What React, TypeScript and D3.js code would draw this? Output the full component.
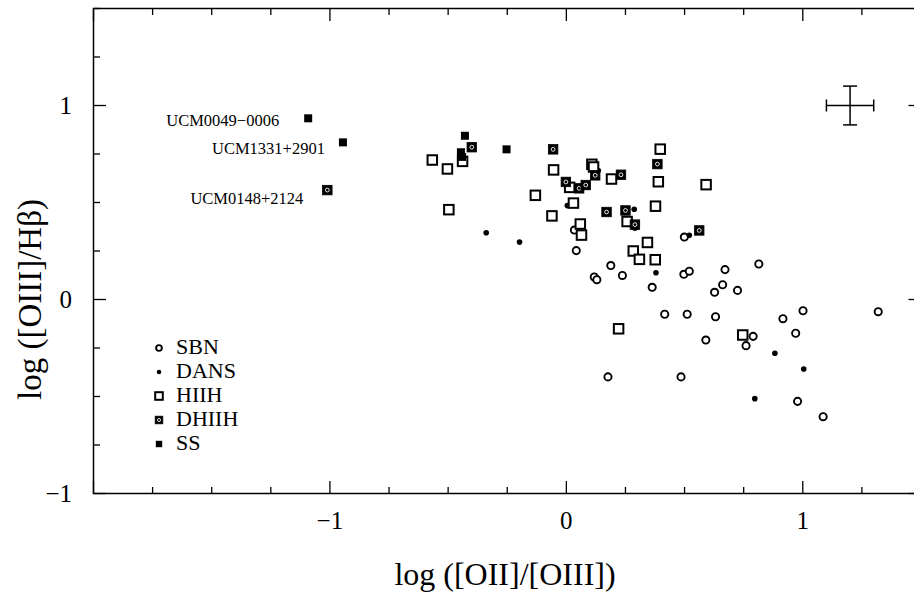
import React from "react";
import * as d3 from "d3";

const W = 914;
const H = 592;

const xDomain: [number, number] = [-2, 1.5];
const yDomain: [number, number] = [-1, 1.5];
const xMajorTicks = [-1, 0, 1];
const yMajorTicks = [-1, 0, 1];
const minorStep = 0.25;

const xTitle = "log ([OII]/[OIII])";
const yTitle = "log ([OIII]/Hβ)";

const legendLabels = ["SBN", "DANS", "HIIH", "DHIIH", "SS"];

// Series: [log([OII]/[OIII]), log([OIII]/Hβ)]
const sbn: [number, number][] = [
  [0.034, 0.358], [0.29, 0.377], [0.499, 0.322], [0.042, 0.252], [0.306, 0.204],
  [0.188, 0.175], [0.237, 0.124], [0.497, 0.13], [0.52, 0.146], [0.118, 0.116],
  [0.129, 0.102], [0.363, 0.063], [0.671, 0.154], [0.814, 0.183], [0.661, 0.076],
  [0.627, 0.037], [0.724, 0.047], [0.416, -0.076], [0.511, -0.076], [0.631, -0.089],
  [0.59, -0.209], [0.79, -0.19], [0.76, -0.238], [0.176, -0.399], [0.485, -0.399],
  [1.001, -0.058], [0.916, -0.099], [0.97, -0.174], [1.319, -0.063], [0.978, -0.525],
  [1.086, -0.604],
];

const dans: [number, number][] = [
  [-0.339, 0.344], [-0.198, 0.296], [0.135, 0.665], [0.004, 0.484], [0.287, 0.465],
  [0.52, 0.331], [0.379, 0.138], [0.882, -0.277], [1.004, -0.358], [0.797, -0.511],
];

const hiih: [number, number][] = [
  [-0.567, 0.719], [-0.503, 0.673], [-0.497, 0.463], [-0.439, 0.712], [-0.054, 0.668],
  [-0.131, 0.537], [-0.061, 0.431], [0.397, 0.775], [0.108, 0.697], [0.115, 0.683],
  [0.191, 0.621], [0.389, 0.607], [0.591, 0.592], [0.014, 0.578], [0.03, 0.497],
  [0.377, 0.481], [0.059, 0.389], [0.064, 0.332], [0.257, 0.402], [0.343, 0.294],
  [0.283, 0.25], [0.309, 0.207], [0.376, 0.205], [0.221, -0.151], [0.746, -0.183],
];

const dhiih: [number, number][] = [
  [-1.011, 0.564], [-0.4, 0.785], [-0.056, 0.774], [0.122, 0.64], [0.231, 0.643],
  [0.385, 0.698], [-0.002, 0.606], [0.054, 0.573], [0.082, 0.59], [0.17, 0.451],
  [0.25, 0.459], [0.29, 0.386], [0.562, 0.356],
];

const ss: [number, number][] = [
  [-1.092, 0.934], [-0.945, 0.81], [-0.429, 0.844], [-0.446, 0.759], [-0.441, 0.735],
  [-0.253, 0.774],
];

const annotationNames = ["UCM0049−0006", "UCM1331+2901", "UCM0148+2124"];
const annotationPoints: [number, number][] = [
  [-1.092, 0.934], [-0.945, 0.81], [-1.011, 0.564],
];
const annotationOffsets: [number, number][] = [
  [-29, 8], [-18, 12], [-24, 14],
];

const errCenter: [number, number] = [1.2, 1.0];
const errHalf: [number, number] = [0.1, 0.1];

const FONT = "'Liberation Serif', 'Times New Roman', serif";

type Kind = "SBN" | "DANS" | "HIIH" | "DHIIH" | "SS";

function Marker({ kind, cx, cy, scale = 1 }: { kind: Kind; cx: number; cy: number; scale?: number }) {
  if (kind === "SBN") {
    return <circle cx={cx} cy={cy} r={3.6 * scale} fill="white" stroke="black" strokeWidth={1.9} />;
  }
  if (kind === "DANS") {
    return <circle cx={cx} cy={cy} r={2.8 * scale} fill="black" />;
  }
  if (kind === "HIIH") {
    const s = 9.5 * scale;
    return <rect x={cx - s / 2} y={cy - s / 2} width={s} height={s} fill="white" stroke="black" strokeWidth={2} />;
  }
  if (kind === "DHIIH") {
    const s = 9.5 * scale;
    return (
      <g>
        <rect x={cx - s / 2} y={cy - s / 2} width={s} height={s} fill="black" stroke="black" strokeWidth={0.8} />
        <circle cx={cx} cy={cy} r={1.9 * scale} fill="none" stroke="white" strokeWidth={0.9} />
        <circle cx={cx} cy={cy} r={0.7 * scale} fill="black" />
      </g>
    );
  }
  const s = 8 * scale;
  return <rect x={cx - s / 2} y={cy - s / 2} width={s} height={s} fill="black" />;
}

export default function App() {
  const x = d3.scaleLinear().domain(xDomain).range([93.5, 921]);
  const y = d3.scaleLinear().domain(yDomain).range([493.5, 8.5]);

  const xMinor = d3.range(xDomain[0], xDomain[1] + 1e-9, minorStep);
  const yMinor = d3.range(yDomain[0], yDomain[1] + 1e-9, minorStep);
  const isMajor = (v: number) => Math.abs(v - Math.round(v)) < 1e-6;

  const [x0, x1] = x.range();
  const [y0, y1] = y.range();
  const majorLen = 12.5;
  const minorLen = 6.5;

  const fmt = (v: number) => (v < 0 ? "−" + Math.abs(v) : String(v));

  const series: { kind: Kind; data: [number, number][] }[] = [
    { kind: "SBN", data: sbn },
    { kind: "DANS", data: dans },
    { kind: "HIIH", data: hiih },
    { kind: "DHIIH", data: dhiih },
    { kind: "SS", data: ss },
  ];

  const ex = x(errCenter[0]);
  const ey = y(errCenter[1]);
  const exl = x(errCenter[0] - errHalf[0]);
  const exr = x(errCenter[0] + errHalf[0]);
  const eyt = y(errCenter[1] + errHalf[1]);
  const eyb = y(errCenter[1] - errHalf[1]);

  return (
    <svg
      width={W}
      height={H}
      viewBox={`0 0 ${W} ${H}`}
      style={{ position: "absolute", left: 0, top: 0, background: "white" }}
    >
      <rect x={0} y={0} width={W} height={H} fill="white" />
      {/* frame */}
      <rect x={x0} y={y1} width={x1 - x0} height={y0 - y1} fill="none" stroke="black" strokeWidth={1.5} />
      {xMinor.map((v, i) => {
        const len = isMajor(v) ? majorLen : minorLen;
        return (
          <g key={"xt" + i} stroke="black" strokeWidth={1.3}>
            <line x1={x(v)} x2={x(v)} y1={y0} y2={y0 - len} />
            <line x1={x(v)} x2={x(v)} y1={y1} y2={y1 + len} />
          </g>
        );
      })}
      {yMinor.map((v, i) => {
        const len = isMajor(v) ? majorLen : minorLen;
        return (
          <g key={"yt" + i} stroke="black" strokeWidth={1.3}>
            <line x1={x0} x2={x0 + len} y1={y(v)} y2={y(v)} />
            <line x1={x1} x2={x1 - len} y1={y(v)} y2={y(v)} />
          </g>
        );
      })}
      {xMajorTicks.map((v) => (
        <text key={"xl" + v} x={x(v)} y={529} textAnchor="middle" fontFamily={FONT} fontSize={25}>
          {fmt(v)}
        </text>
      ))}
      {yMajorTicks.map((v) => (
        <text key={"yl" + v} x={72} y={y(v) + 8.5} textAnchor="end" fontFamily={FONT} fontSize={25}>
          {fmt(v)}
        </text>
      ))}
      <text x={505} y={585} textAnchor="middle" fontFamily={FONT} fontSize={32}>
        {xTitle}
      </text>
      <text
        transform={`translate(41, ${y(0)}) rotate(-90)`}
        textAnchor="middle"
        fontFamily={FONT}
        fontSize={33}
      >
        {yTitle}
      </text>

      {series.map((s) =>
        s.data.map((d, i) => <Marker key={s.kind + i} kind={s.kind} cx={x(d[0])} cy={y(d[1])} />)
      )}

      {annotationNames.map((n, i) => (
        <text
          key={"an" + i}
          x={x(annotationPoints[i][0]) + annotationOffsets[i][0]}
          y={y(annotationPoints[i][1]) + annotationOffsets[i][1]}
          textAnchor="end"
          fontFamily={FONT}
          fontSize={16.5}
        >
          {n}
        </text>
      ))}

      <g stroke="black" strokeWidth={1.5}>
        <line x1={exl} x2={exr} y1={ey} y2={ey} />
        <line x1={ex} x2={ex} y1={eyt} y2={eyb} />
        <line x1={exl} x2={exl} y1={ey - 6} y2={ey + 6} />
        <line x1={exr} x2={exr} y1={ey - 6} y2={ey + 6} />
        <line x1={ex - 7} x2={ex + 7} y1={eyt} y2={eyt} />
        <line x1={ex - 7} x2={ex + 7} y1={eyb} y2={eyb} />
      </g>

      {legendLabels.map((l, i) => (
        <g key={"lg" + l}>
          <Marker kind={l as Kind} cx={159} cy={348 + i * 24} scale={0.8} />
          <text x={176} y={354 + i * 24} fontFamily={FONT} fontSize={22}>
            {l}
          </text>
        </g>
      ))}
    </svg>
  );
}
